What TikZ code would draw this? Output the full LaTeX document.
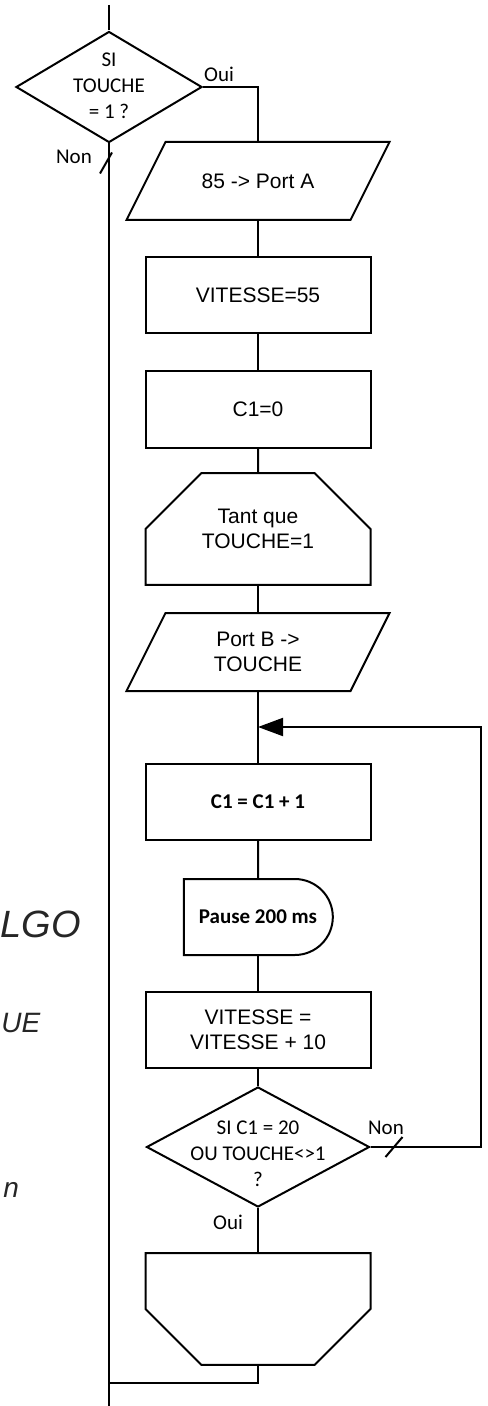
\documentclass[tikz,border=0pt]{standalone}
\usepackage{fontspec}
\setmainfont{Liberation Sans}
\newfontfamily\calfont{Carlito}
\usetikzlibrary{arrows.meta,shapes.geometric,shapes.misc}
\newcommand{\ztab}[1]{\begin{tabular}{@{}c@{}}#1\end{tabular}}
% zero-width text, optionally lowered inside its own box
\newcommand{\ztext}[2][0pt]{\makebox[0pt]{\vphantom{\ztab{#2}}\raisebox{#1}[0pt][0pt]{\ztab{#2}}}}
\tikzset{
  wire/.style={line width=1pt},
  flow/.style={draw,line width=1pt,inner sep=0pt,align=center,
    font=\fontsize{10.5}{12.5}\selectfont},
  procbox/.style={flow,rectangle,minimum width=112.5pt,minimum height=38pt},
  iobox/.style={flow,draw=none,rectangle,minimum width=111pt,minimum height=38pt,
    append after command={\pgfextra{\draw[wire]
      ([xshift=9.75pt]\tikzlastnode.north west) -- ([xshift=9.75pt]\tikzlastnode.north east)
      -- ([xshift=-9.75pt]\tikzlastnode.south east) -- ([xshift=-9.75pt]\tikzlastnode.south west)
      -- cycle;}}},
  loopbox/.style={flow,chamfered rectangle,chamfered rectangle xsep=18.5pt,
    chamfered rectangle ysep=18pt,minimum width=112.5pt,minimum height=47pt},
  waitbox/.style={flow,rounded rectangle,rounded rectangle left arc=none,
    minimum width=74.5pt,minimum height=38pt,
    font=\calfont\bfseries\fontsize{10.5}{12.5}\selectfont},
  testbox/.style={flow,diamond,font=\calfont\fontsize{10.5}{13}\selectfont},
  lbl/.style={font=\calfont\fontsize{10.5}{12.5}\selectfont,inner sep=0pt},
  scribble/.style={font=\itshape\fontsize{19}{20}\selectfont,text=black!85,inner sep=0pt},
}

\begin{document}
\begin{tikzpicture}[x=0.5pt,y=-0.5pt]
  \useasboundingbox (0,0) rectangle (487,1406);
  \def\mx{258}  % main column
  \def\lx{109}  % bypass line
  \def\rx{481}  % loop-back line
  % first test, bypass on the left
  \node[testbox,minimum width=93pt,minimum height=55.5pt] (d1) at (\lx,87)
    {\ztext{SI\\TOUCHE\\= 1 ?}};
  \coordinate (entry) at (\lx,5);
  \coordinate (exit) at (\lx,1406);
  \draw[wire] (entry) -- (d1);
  \draw[wire] (d1) -- (exit);
  \node[lbl] (oui1) at (219,74) {Oui};
  \node[lbl] (non1) at (74,157) {Non};
  \draw[wire] ([shift={(-9,30)}]d1.south) -- ++(12,-21);

  % main column
  \node[iobox] (io1) at (\mx,181) {85 -> Port A};
  \node[procbox] (p1) at (\mx,295.5) {VITESSE=55};
  \node[procbox] (p2) at (\mx,409.5) {C1=0};
  \node[loopbox,chamfered rectangle corners={north west,north east}] (loop1)
    at (\mx,529) {Tant que\\TOUCHE=1};
  \node[iobox] (io2) at (\mx,652) {Port B ->\\TOUCHE};
  \coordinate (jn) at (\mx,727);
  \node[procbox,font=\calfont\bfseries\fontsize{10.5}{12.5}\selectfont] (p3)
    at (\mx,801.5) {C1 = C1 + 1};
  \node[waitbox] (wait) at (\mx,917) {Pause 200 ms};
  \node[procbox] (p4) at (\mx,1030) {VITESSE =\\VITESSE + 10};
  \node[testbox,minimum width=111.5pt,minimum height=60pt] (d2) at (\mx,1147)
    {\ztext[-4pt]{SI C1 = 20\\OU TOUCHE<>1\\?}};
  \node[loopbox,chamfered rectangle corners={south west,south east}] (loop2)
    at (\mx,1309) {\phantom{Tant que}\\\phantom{TOUCHE=1}};
  \coordinate (bot) at (\lx,1383);
  \coordinate (back) at (\rx,727);

  \draw[wire] (d1.east) -| (io1);
  \foreach \a/\b in {io1/p1,p1/p2,p2/loop1,loop1/io2,io2/p3,p3/wait,wait/p4,p4/d2,d2/loop2}
    \draw[wire] (\a) -- (\b);
  \draw[wire] (loop2) |- (bot);

  % loop back
  \draw[wire,-{Triangle[length=12.5pt,width=9pt]}] (d2.east) -| (back) -- (jn);
  \node[lbl] (non2) at (386,1128) {Non};
  \draw[wire] ([shift={(15,10)}]d2.east) -- ++(17,-20);
  \node[lbl] (oui2) at (228,1222) {Oui};

  % notes in the margin
  \node[scribble,anchor=west] (h1) at (0,924) {LGO};
  \node[scribble,anchor=west,font=\itshape\fontsize{14}{15}\selectfont] (h2) at (1,1023) {UE};
  \node[scribble,anchor=west,font=\itshape\fontsize{14}{15}\selectfont] (h3) at (3,1190) {n};
\end{tikzpicture}
\end{document}
